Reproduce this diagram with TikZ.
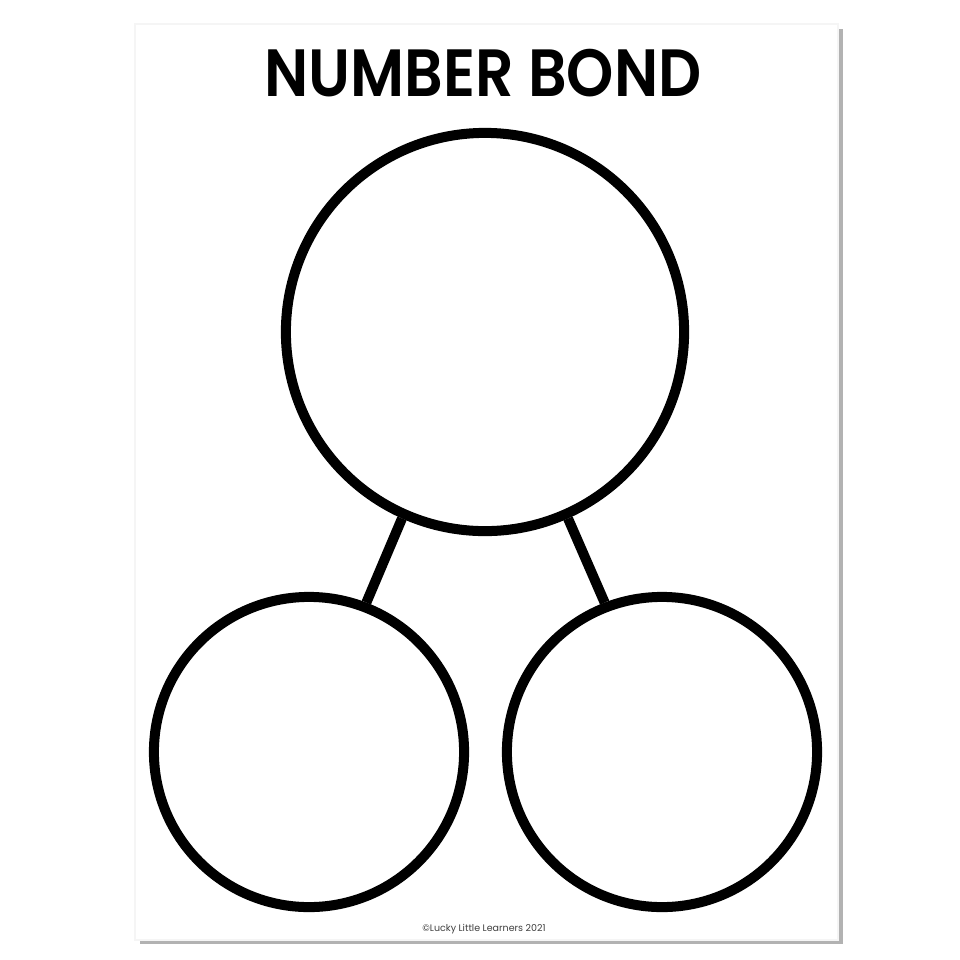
\documentclass[tikz,border=0pt]{standalone}
\usepackage{fontspec}
\setmainfont{Poppins}
\newfontfamily\titlefont{Poppins}[BoldFont={* SemiBold}]
\usepackage{tikz}

\begin{document}
\begin{tikzpicture}[x=0.01cm,y=-0.01cm]
        \useasboundingbox (0,0) rectangle (960,960);
        % page and its shadow
        \fill[gray!60] (140,29) rectangle (843,944);
        \filldraw[fill=white,draw=gray!8] (135,24) rectangle (838,940);
        \node (title) at (483,73) {\scalebox{0.9}[1]{\fontsize{19}{19}\titlefont\bfseries NUMBER BOND}};
        \node[text=black!75] (credit) at (484,929) {\fontsize{2.7}{3}\selectfont ©Lucky Little Learners 2021};
        % circles
        \tikzset{bond/.style={circle, draw, line width=0.1cm, inner sep=0pt}}
        \node[bond, minimum size=3.98cm] (whole) at (485,332) {};
        \node[bond, minimum size=3.1cm] (partA) at (309,752) {};
        \node[bond, minimum size=3.1cm] (partB) at (662,752) {};
        \draw[line width=0.1cm] (whole.246) -- (partA.69);
        \draw[line width=0.1cm] (whole.294) -- (partB.111);
    \end{tikzpicture}
\end{document}
